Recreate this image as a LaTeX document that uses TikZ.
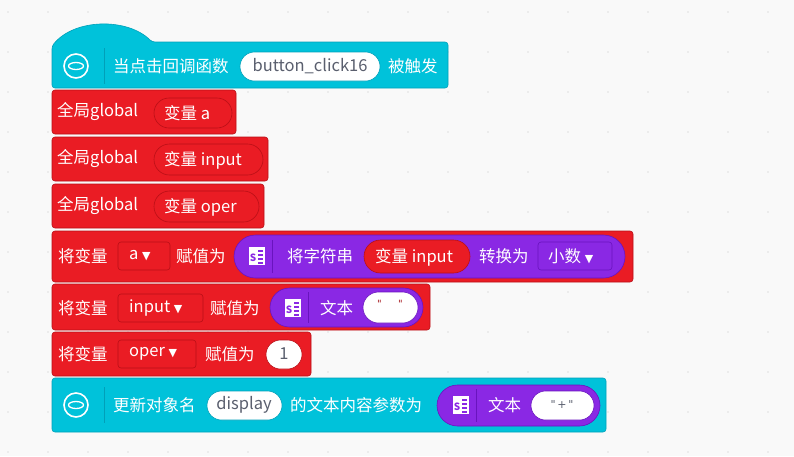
\documentclass[tikz,border=0pt]{standalone}
\usepackage{fontspec}
\setmainfont{Noto Sans CJK SC}
\newfontfamily\symfont{DejaVu Sans}
\definecolor{bg}{RGB}{249,249,249}
\definecolor{evt}{RGB}{0,194,218}
\definecolor{evtline}{RGB}{0,160,185}
\definecolor{var}{RGB}{234,28,36}
\definecolor{varline}{RGB}{185,15,22}
\definecolor{txt}{RGB}{138,40,228}
\definecolor{txtline}{RGB}{105,20,190}
\definecolor{field}{RGB}{90,95,110}
\tikzset{
  lbl/.style={anchor=west,inner sep=0pt,text=white,font=\fontsize{16.5}{18}\selectfont},
  fld/.style={anchor=center,inner sep=0pt,text=field,font=\fontsize{16.5}{18}\selectfont},
  blk/.style={rounded corners=3pt,line width=0.6pt},
}
\newcommand{\dd}{{\symfont\fontsize{11}{11}\selectfont ▼}}
% pill: x1,y1,x2,y2,fill,draw
\newcommand{\pill}[6]{\draw[fill=#5,draw=#6,line width=0.6pt,rounded corners={((#4)-(#2))/2*1pt}] (#1,#2) rectangle (#3,#4);}
% event icon at x,y
\newcommand{\evticon}[2]{
  \draw[white,line width=1.6pt] (#1,#2) circle (12);
  \draw[white,line width=1.3pt] (#1,#2) ellipse (7.5 and 3.5);}
% text icon at x,y
\newcommand{\txticon}[2]{
  \fill[white] (#1-8,#2-9) rectangle (#1+8,#2+9);
  \node[inner sep=0pt,text=txt,font=\bfseries\fontsize{10}{10}\selectfont] at (#1-4,#2+2) {S};
  \foreach \yy in {-5,-1,3,7} \draw[txt,line width=1.2pt] (#1+1,#2+\yy) -- (#1+6,#2+\yy);}
\begin{document}
\begin{tikzpicture}[x=1pt,y=-1pt]
\fill[bg] (0,0) rectangle (794,456);
\useasboundingbox (0,0) rectangle (794,456);
\foreach \i in {0,...,20} \foreach \j in {0,...,11}
  \fill[black!12] (8+\i*40,12+\j*40) circle (0.8);
% hat block
\draw[blk,fill=evt,draw=evtline] (52,88) -- (52,46) .. controls (75,18) and (128,18) .. (152,42) -- (448,42) -- (448,88) -- cycle;
\evticon{76}{66}
\draw[evtline] (104,48) -- (104,84);
\node[lbl] (whenlbl) at (113,66) {当点击回调函数};
\pill{240}{52}{380}{81}{white}{evtline}
\node[fld] (cbname) at (310,66) {button\_click16};
\node[lbl] (trig) at (388,66) {被触发};
% globals
\draw[blk,fill=var,draw=varline] (52,90) rectangle (236,134);
\node[lbl] (g1) at (57,112) {全局global};
\pill{154}{98}{232}{128}{var}{varline}
\node[lbl] (g1v) at (164,113) {变量\ a};
\draw[blk,fill=var,draw=varline] (52,137) rectangle (268,181);
\node[lbl] (g2) at (57,159) {全局global};
\pill{154}{144}{263}{175}{var}{varline}
\node[lbl] (g2v) at (164,160) {变量\ input};
\draw[blk,fill=var,draw=varline] (52,184) rectangle (264,228);
\node[lbl] (g3) at (57,206) {全局global};
\pill{154}{191}{259}{222}{var}{varline}
\node[lbl] (g3v) at (164,207) {变量\ oper};
% set a
\draw[blk,fill=var,draw=varline] (52,231) rectangle (633,282);
\node[lbl] (s1) at (58,256) {将变量};
\draw[blk,fill=var,draw=varline] (118,242) rectangle (170,270);
\node[lbl] (s1d) at (129,256) {a\ \dd};
\node[lbl] (s1t) at (176,256) {赋值为};
\pill{234}{235}{625}{278}{txt}{txtline}
\txticon{257}{256}
\draw[txtline] (272,240) -- (272,273);
\node[lbl] (conv) at (287,256) {将字符串};
\pill{364}{240}{470}{273}{var}{varline}
\node[lbl] (convv) at (375,257) {变量\ input};
\node[lbl] (convt) at (479,256) {转换为};
\draw[blk,fill=txt,draw=txtline] (538,242) rectangle (612,270);
\node[lbl] (convd) at (548,256) {小数\ \dd};
% set input
\draw[blk,fill=var,draw=varline] (52,284) rectangle (430,330);
\node[lbl] (s2) at (58,308) {将变量};
\draw[blk,fill=var,draw=varline] (118,294) rectangle (203,322);
\node[lbl] (s2d) at (129,308) {input\ \dd};
\node[lbl] (s2t) at (210,308) {赋值为};
\pill{270}{288}{423}{327}{txt}{txtline}
\txticon{293}{308}
\draw[txtline] (308,292) -- (308,323);
\node[lbl] (s2x) at (320,308) {文本};
\pill{363}{292}{418}{323}{white}{txtline}
\node[fld,text=var!70!black,font=\symfont\fontsize{10}{10}\selectfont] (s2q) at (390,304) {"\quad\ \ "};
% set oper
\draw[blk,fill=var,draw=varline] (52,332) rectangle (311,376);
\node[lbl] (s3) at (58,354) {将变量};
\draw[blk,fill=var,draw=varline] (118,340) rectangle (196,368);
\node[lbl] (s3d) at (129,354) {oper\ \dd};
\node[lbl] (s3t) at (205,354) {赋值为};
\pill{266}{340}{302}{369}{white}{varline}
\node[fld] (s3v) at (284,354) {1};
% update
\draw[blk,fill=evt,draw=evtline] (52,378) rectangle (606,432);
\evticon{76}{405}
\draw[evtline] (104,387) -- (104,423);
\node[lbl] (upd) at (113,405) {更新对象名};
\pill{207}{391}{282}{420}{white}{evtline}
\node[fld] (updn) at (244,405) {display};
\node[lbl] (updt) at (290,405) {的文本内容参数为};
\pill{437}{385}{600}{426}{txt}{txtline}
\txticon{461}{405}
\draw[txtline] (476,389) -- (476,422);
\node[lbl] (updx) at (488,405) {文本};
\pill{531}{391}{594}{420}{white}{txtline}
\node[fld,font=\symfont\fontsize{11}{11}\selectfont] (updq) at (562,404) {"\,+\,"};
\end{tikzpicture}
\end{document}
